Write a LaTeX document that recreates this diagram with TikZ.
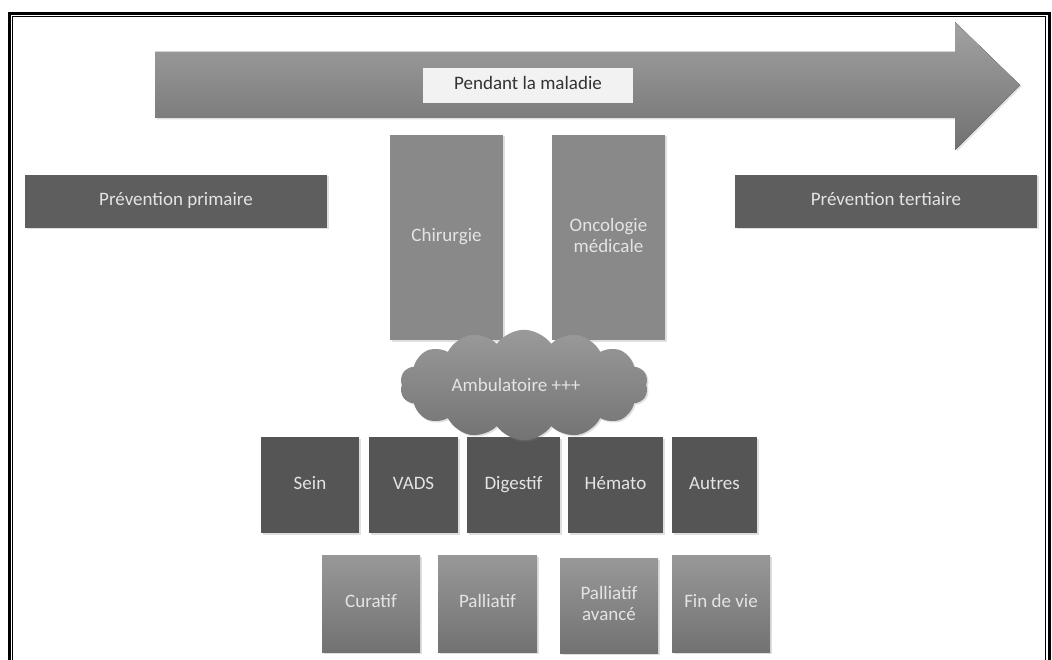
\documentclass[tikz,border=0pt]{standalone}
\usepackage{fontspec}
\setmainfont{Carlito}
\usetikzlibrary{shapes.symbols,shadows}
\definecolor{darkbox}{HTML}{555555}
\definecolor{primbox}{HTML}{5E5E5E}
\definecolor{midbox}{HTML}{898989}
\definecolor{lighttext}{HTML}{E4E4E4}
\definecolor{arrtop}{HTML}{A2A2A2}
\definecolor{arrbot}{HTML}{717171}
\definecolor{gtop}{HTML}{989898}
\definecolor{gbot}{HTML}{727272}
\definecolor{ctop}{HTML}{9A9A9A}
\definecolor{cbot}{HTML}{737373}
\begin{document}
\begin{tikzpicture}[x=1pt,y=-1pt,
  every node/.style={font=\fontsize{19}{21}\selectfont, align=center, inner sep=0pt},
  oneline/.style={text height=0.86em, text depth=0em},
  shad/.style={drop shadow={opacity=0.25, shadow xshift=1.5pt, shadow yshift=-1.5pt}},
  primstyle/.style={rectangle, fill=primbox, text=lighttext, shad, oneline},
  tallbox/.style={rectangle, fill=midbox, text=lighttext, shad},
  darkstyle/.style={rectangle, fill=darkbox, text=lighttext, shad, oneline},
  gradbox/.style={rectangle, top color=gtop, bottom color=gbot, text=lighttext, shad},
  labelbox/.style={rectangle, fill=gray!10, text=black!80, oneline},
  cloudstyle/.style={cloud, cloud puffs=14, cloud puff arc=110, aspect=2.3, top color=ctop, bottom color=cbot, text=lighttext, shad}
]
\useasboundingbox (0,0) rectangle (1052,660);
\fill[white] (0,0) rectangle (1052,660);
% frame (open at bottom)
\draw[line width=2.8pt] (9.7,660) -- (9.7,13.5) -- (1049.5,13.5) -- (1049.5,660);
\draw[line width=1.1pt] (12.9,660) -- (12.9,16.5) -- (1045.6,16.5) -- (1045.6,660);
% big arrow
\fill[top color=arrtop, bottom color=arrbot, drop shadow={opacity=0.25, shadow xshift=1.5pt, shadow yshift=-1.5pt}]
  (155,52) -- (955,52) -- (955,22) -- (1020,85) -- (955,150) -- (955,118) -- (155,118) -- cycle;
\node[labelbox, minimum width=210pt, minimum height=35pt] (pend) at (528,85.5) {Pendant la maladie};
% prevention boxes
\node[primstyle, minimum width=302pt, minimum height=53pt] (prim) at (176,201.5) {Prévention primaire};
\node[primstyle, minimum width=302pt, minimum height=53pt] (tert) at (886,201.5) {Prévention tertiaire};
% tall boxes
\node[tallbox, oneline, minimum width=113pt, minimum height=205pt] (chir) at (446.5,237.5) {Chirurgie};
\node[tallbox, minimum width=113pt, minimum height=205pt] (onco) at (608.5,237.5) {\raisebox{-3pt}{\begin{tabular}{@{}c@{}}Oncologie\\médicale\end{tabular}}};
% row of dark boxes
\node[darkstyle, minimum width=98pt, minimum height=96pt] (sein) at (310,485) {Sein};
\node[darkstyle, minimum width=89pt, minimum height=96pt] (vads) at (413.5,485) {VADS};
\node[darkstyle, minimum width=93pt, minimum height=96pt] (dig) at (513.5,485) {Digestif};
\node[darkstyle, minimum width=95pt, minimum height=96pt] (hem) at (615.5,485) {Hémato};
\node[darkstyle, minimum width=85pt, minimum height=96pt] (aut) at (714.5,485) {Autres};
% cloud
\node[cloudstyle, minimum width=248pt, minimum height=106pt] (amb) at (524,385) {\raisebox{-4pt}{Ambulatoire +++}\hspace*{16pt}};
% bottom row
\node[gradbox, oneline, minimum width=98pt, minimum height=97pt] (cur) at (371,603.5) {Curatif};
\node[gradbox, oneline, minimum width=99pt, minimum height=97pt] (pal) at (487.5,603.5) {Palliatif};
\node[gradbox, minimum width=98pt, minimum height=95pt] (pav) at (609,605.5) {\raisebox{-5pt}{\begin{tabular}{@{}c@{}}Palliatif\\avancé\end{tabular}}};
\node[gradbox, oneline, minimum width=98pt, minimum height=97pt] (fin) at (721,603.5) {Fin de vie};
\end{tikzpicture}
\end{document}
